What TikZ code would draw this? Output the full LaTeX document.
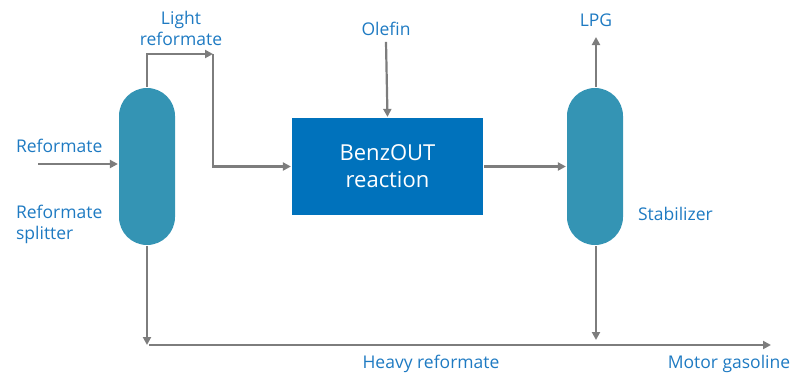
\documentclass[tikz,border=0pt]{standalone}
\usepackage{fontspec}
\setmainfont{Open Sans}
\usetikzlibrary{arrows.meta}
\definecolor{lbl}{RGB}{30,122,194}
\definecolor{col}{RGB}{52,148,180}
\definecolor{box}{RGB}{0,114,188}
\definecolor{pipe}{RGB}{125,125,125}
\tikzset{
  column/.style={draw=none, fill=col, rounded corners=28pt, minimum width=56pt, minimum height=157pt},
  reactor/.style={draw=none, fill=box, minimum width=191pt, minimum height=97pt, text=white, align=center, font=\fontsize{22}{27}\selectfont},
  lab/.style={text=lbl, inner sep=0pt, align=center, font=\fontsize{17.5}{21}\selectfont},
}
\begin{document}
\begin{tikzpicture}[x=1pt, y=-1pt, >={Triangle[length=8pt,width=8pt]}, line width=2.2pt, draw=pipe]
    \useasboundingbox (0, 0) rectangle (807, 373);
    \node[column] (1) at (147, 166.5) {};
    \node[column] (2) at (595, 166.5) {};
    \node[reactor] (3) at (387.5, 166.5) {BenzOUT\\reaction};
    \node[lab, anchor=west] (11) at (15, 146) {Reformate};
    \node[lab, anchor=north west, align=left] (12) at (15, 204) {Reformate\\splitter};
    \node[lab] (13) at (181, 28) {Light\\reformate};
    \node[lab] (14) at (386, 29) {Olefin};
    \node[lab] (15) at (596, 20) {LPG};
    \node[lab, anchor=west] (16) at (637, 214) {Stabilizer};
    \node[lab] (17) at (431, 364) {Heavy reformate};
    \node[lab] (18) at (729, 364) {Motor gasoline};
    \coordinate (21) at (38, 164);
    \coordinate (22) at (213, 54);
    \coordinate (23) at (147, 345);
    \coordinate (24) at (771, 345);
    \coordinate (25) at (596, 340);
    \coordinate (26) at (596, 37);
    \draw [->] (21) to (1.west |- 21);
    \draw [->] (1.north) |- (22);
    \draw [->] (22) |- (3.west);
    \draw [->] (14.south) ++(0, 5) to (3.north);
    \draw [->] (3.east) to (2.west |- 3.east);
    \draw [->] (2.north -| 26) to (26);
    \draw [->] (1.south) to (23);
    \draw [->] (23) ++(2, 0) to (24);
    \draw [->] (2.south -| 25) to (25);
\end{tikzpicture}
\end{document}
